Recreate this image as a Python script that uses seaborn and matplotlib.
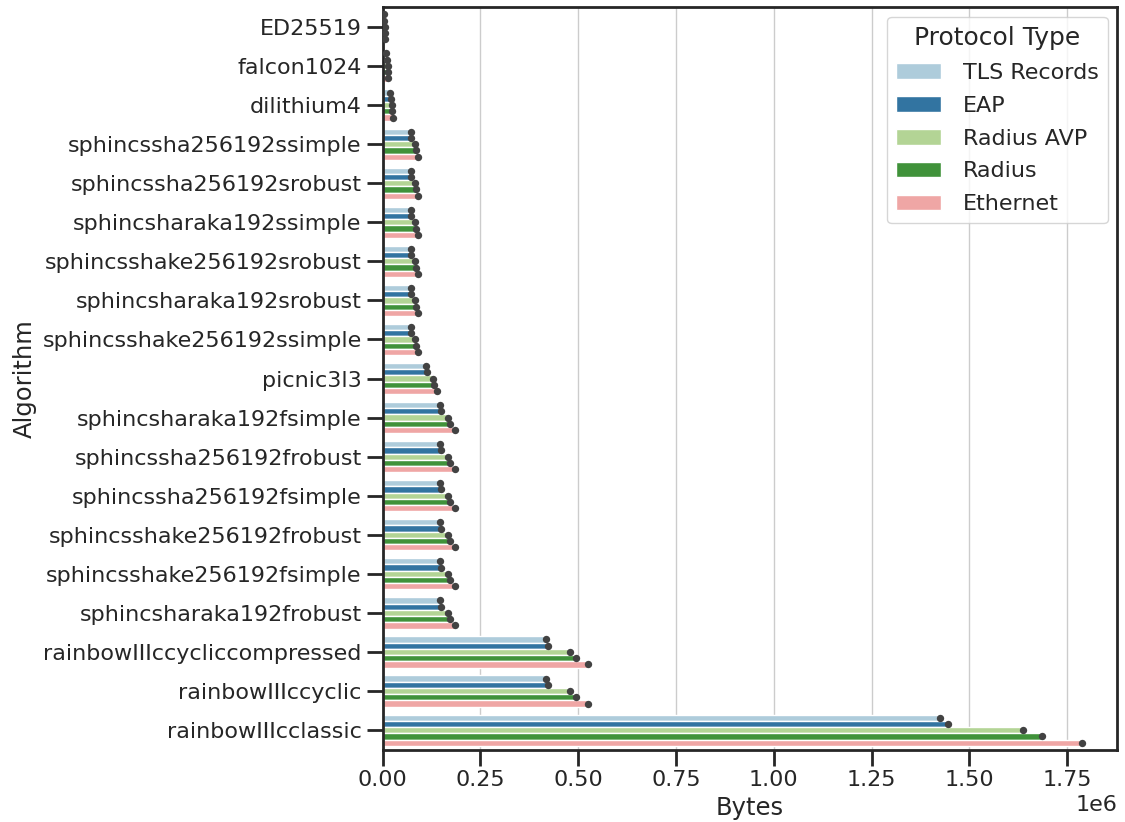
import matplotlib
matplotlib.use("Agg")
import matplotlib.pyplot as plt
import pandas as pd
import seaborn as sns

algorithms = [
    "ED25519", "falcon1024", "dilithium4",
    "sphincssha256192ssimple", "sphincssha256192srobust",
    "sphincsharaka192ssimple", "sphincsshake256192srobust",
    "sphincsharaka192srobust", "sphincsshake256192ssimple",
    "picnic3l3",
    "sphincsharaka192fsimple", "sphincssha256192frobust",
    "sphincssha256192fsimple", "sphincsshake256192frobust",
    "sphincsshake256192fsimple", "sphincsharaka192frobust",
    "rainbowIIIccycliccompressed", "rainbowIIIccyclic", "rainbowIIIcclassic",
]

protocols = ["TLS Records", "EAP", "Radius AVP", "Radius", "Ethernet"]

tls_records = [4500, 10200, 20400,
               72000, 72000, 72000, 72000, 72000, 72000,
               111000,
               146000, 146000, 146000, 146000, 146000, 146000,
               418000, 418000, 1426000]
eap = [4600, 11000, 21000,
       73200, 73200, 73200, 73200, 73200, 73200,
       112800,
       148500, 148500, 148500, 148500, 148500, 148500,
       424000, 424000, 1445000]
radius_avp = [5300, 12800, 23600,
              83000, 83000, 83000, 83000, 83000, 83000,
              127800,
              167800, 167800, 167800, 167800, 167800, 167800,
              480000, 480000, 1637000]
radius = [5600, 13400, 24800,
          85600, 85600, 85600, 85600, 85600, 85600,
          132000,
          173500, 173500, 173500, 173500, 173500, 173500,
          495000, 495000, 1686000]
ethernet = [6300, 14400, 26200,
            91000, 91000, 91000, 91000, 91000, 91000,
            139500,
            184500, 184500, 184500, 184500, 184500, 184500,
            525000, 525000, 1788000]

series = dict(zip(protocols, [tls_records, eap, radius_avp, radius, ethernet]))
rows = []
for proto, values in series.items():
    for alg, v in zip(algorithms, values):
        rows.append({"Algorithm": alg, "Protocol Type": proto, "Bytes": v})
df = pd.DataFrame(rows)

sns.set_theme(style="ticks", context="notebook", font_scale=1.5,
              rc={"axes.grid": True,
                  "xtick.labelsize": 16, "ytick.labelsize": 16,
                  "axes.labelsize": 17.5,
                  "xtick.major.size": 11.5, "ytick.major.size": 11.5,
                  "xtick.major.width": 2, "ytick.major.width": 2,
                  "axes.linewidth": 2})

fig, ax = plt.subplots(figsize=(11.25, 8.22), dpi=100)
sns.barplot(
    data=df, x="Bytes", y="Algorithm", hue="Protocol Type",
    order=algorithms, hue_order=protocols, palette="Paired",
    errorbar=None, ax=ax,
)
# dark end markers on each bar
sns.stripplot(
    data=df, x="Bytes", y="Algorithm", hue="Protocol Type",
    order=algorithms, hue_order=protocols,
    palette=[".26"] * len(protocols), dodge=True, jitter=False,
    size=5.3, linewidth=0, legend=False, ax=ax, zorder=3,
)
ax.yaxis.grid(False)
ax.legend(title="Protocol Type", loc="upper right", labelspacing=0.58,
          fontsize=16, handletextpad=1.0, borderaxespad=0.43)
fig.subplots_adjust(left=0.34, right=0.993, top=0.991, bottom=0.088)
fig.savefig("out.png", dpi=100)
